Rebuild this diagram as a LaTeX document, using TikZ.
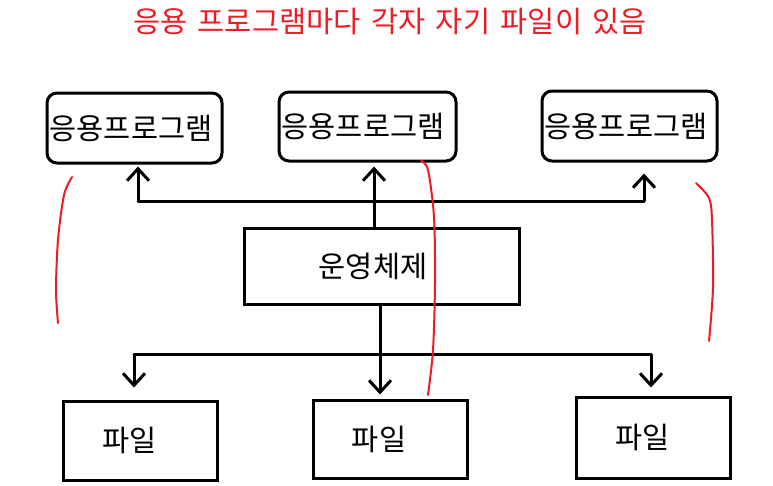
\documentclass[tikz,border=0pt]{standalone}
\usepackage{fontspec}
\newfontfamily\krfont{Noto Sans CJK KR}
\usetikzlibrary{arrows.meta}
\definecolor{pen}{RGB}{237,28,36}
\begin{document}
\begin{tikzpicture}[x=1pt,y=-1pt,
  txt/.style={font=\krfont\fontsize{29.5pt}{34pt}\selectfont},
  appbox/.style={txt, draw, line width=3pt, rounded corners=10pt, minimum width=175pt, minimum height=70pt, inner sep=0pt},
  plainbox/.style={txt, draw, line width=3pt, inner sep=0pt},
  arr/.style={line width=3pt, -{Straight Barb[length=12pt,width=22pt]}},
  wire/.style={line width=3pt, line cap=round},
  redline/.style={draw=pen, line width=2pt, line cap=round},
]
\useasboundingbox (0,0) rectangle (773,485);

\node[txt, text=pen, inner sep=0pt] (title) at (390,21) {\spaceskip=10.5pt\relax 응용 프로그램마다 각자 자기 파일이 있음};

\node[appbox] (a1) at (134.5,128) {응용프로그램\kern7pt};
\node[appbox, minimum width=177pt, minimum height=69pt] (a2) at (367.5,126.5) {응용프로그램\kern9pt};
\node[appbox] (a3) at (629.5,126) {응용프로그램\kern7pt};

\node[plainbox, minimum width=275pt, minimum height=76pt] (os) at (381.5,266) {운영체제\kern17pt};

\node[plainbox, minimum width=154pt, minimum height=79pt] (f1) at (140,440.5) {파일\kern21pt};
\node[plainbox, minimum width=154pt, minimum height=78pt] (f2) at (390,439) {파일\kern22pt};
\node[plainbox, minimum width=154pt, minimum height=81pt] (f3) at (653,437.5) {파일\kern21pt};

% top connectors
\coordinate (t1) at (138,201);
\coordinate (t2) at (374,201);
\coordinate (t3) at (644,201);
\draw[wire] (t1) -- (t3);
\draw[arr, shorten >=2pt] (t1) -- (t1 |- a1.south);
\draw[arr, shorten >=4pt] (os.north -| t2) -- (t2 |- a2.south);
\draw[arr, shorten >=11pt] (t3) -- (t3 |- a3.south);

% bottom connectors
\coordinate (b1) at (134,354);
\coordinate (b2) at (380,354);
\coordinate (b3) at (651,354);
\draw[wire] (b1) -- (b3);
\draw[arr, shorten >=12pt] (b1) -- (b1 |- f1.north);
\draw[arr, shorten >=4pt] (os.south -| b2) -- (b2 |- f2.north);
\draw[arr, shorten >=8pt] (b3) -- (b3 |- f3.north);

% red hand-drawn separators
\draw[redline] plot[smooth] coordinates {(72,177) (64,195) (58,240) (56,290) (58,323)};
\draw[redline] plot[smooth] coordinates {(421,161) (428,170) (434,217) (435,283) (433,350) (428,395)};
\draw[redline] plot[smooth] coordinates {(696,183) (709,198) (712,220) (713,287) (709,341)};
\end{tikzpicture}
\end{document}
